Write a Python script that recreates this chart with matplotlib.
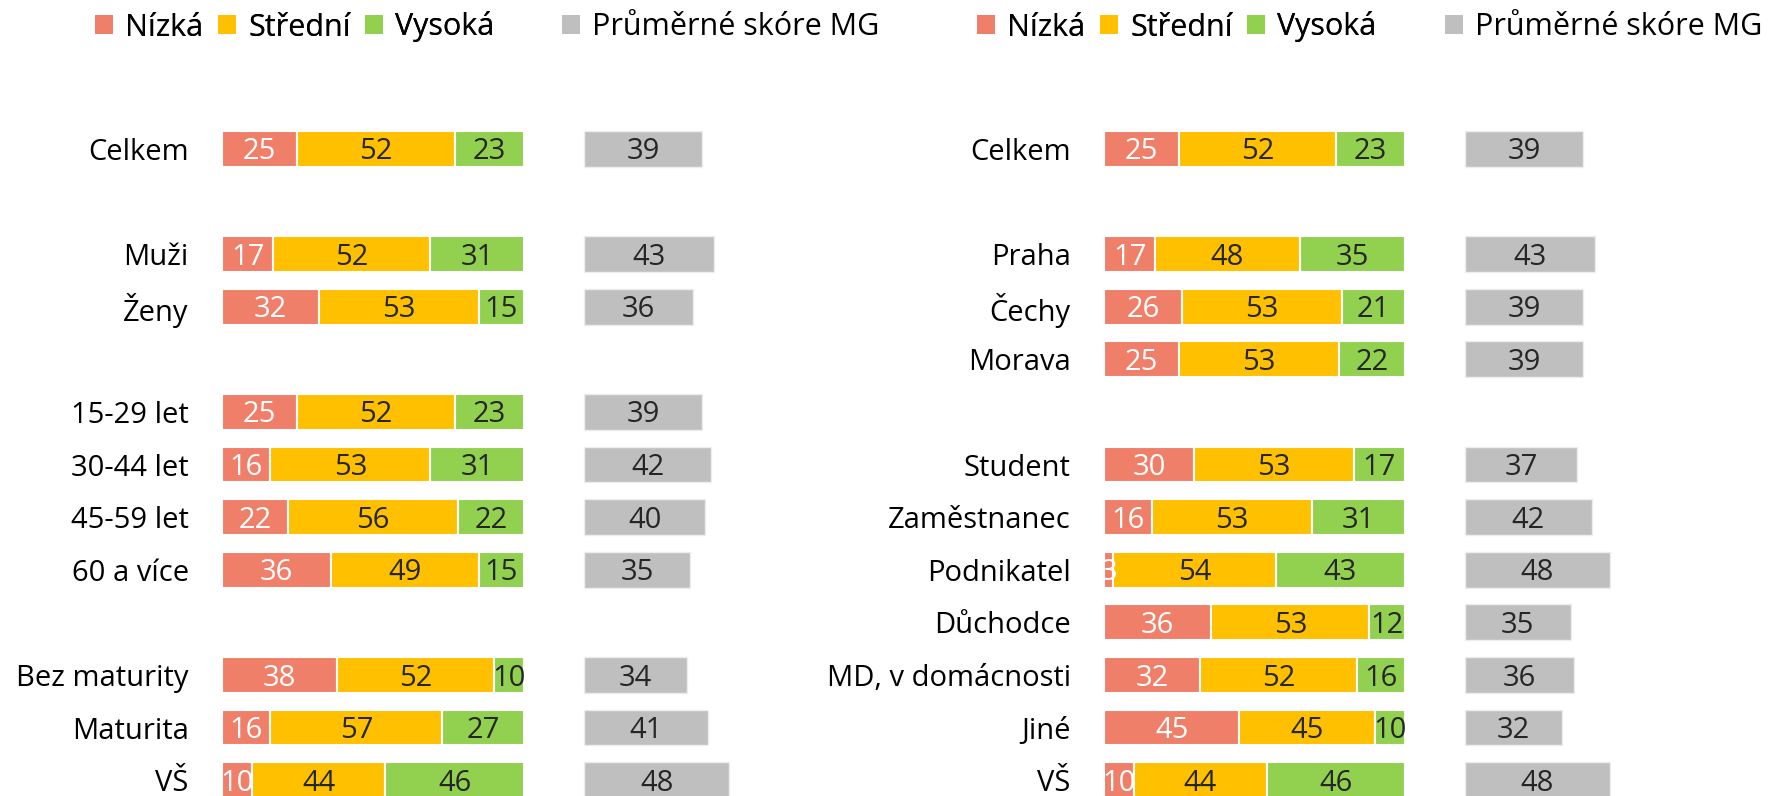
import numpy as np
import matplotlib
matplotlib.use('Agg')
import matplotlib.pyplot as plt
from matplotlib.patches import Patch

plt.rcParams['font.family'] = ['Open Sans', 'DejaVu Sans']

# left panel
left_groups = [['Celkem'], ['Muži', 'Ženy'],
               ['15-29 let', '30-44 let', '45-59 let', '60 a více'],
               ['Bez maturity', 'Maturita', 'VŠ']]
left_low = [25, 17, 32, 25, 16, 22, 36, 38, 16, 10]
left_mid = [52, 52, 53, 52, 53, 56, 49, 52, 57, 44]
left_high = [23, 31, 15, 23, 31, 22, 15, 10, 27, 46]
left_score = [39, 43, 36, 39, 42, 40, 35, 34, 41, 48]

# right panel
right_groups = [['Celkem'], ['Praha', 'Čechy', 'Morava'],
                ['Student', 'Zaměstnanec', 'Podnikatel', 'Důchodce',
                 'MD, v domácnosti', 'Jiné', 'VŠ']]
right_low = [25, 17, 26, 25, 30, 16, 3, 36, 32, 45, 10]
right_mid = [52, 48, 53, 53, 53, 53, 54, 53, 52, 45, 44]
right_high = [23, 35, 21, 22, 17, 31, 43, 12, 16, 10, 46]
right_score = [39, 43, 39, 39, 37, 42, 48, 35, 36, 32, 48]

legend_labels = ['Nízká', 'Střední', 'Vysoká']
score_label = 'Průměrné skóre MG'

RED = '#F07F6A'
YELLOW = '#FFC000'
GREEN = '#92D050'
GRAY = '#BFBFBF'
DARK = '#262626'
FS = 21
LEG_FS = 22
W, H = 1783, 796
GRAY_START = 120
# baseline shift so the digits sit centred on the bar (in row units)
TXT_DY = 0.2


def row_positions(groups):
    pos = []
    y = 0
    for g in groups:
        for _ in g:
            pos.append(y)
            y += 1
        y += 1
    return pos


def draw_panel(ax, groups, low, mid, high, score):
    labels = [c for g in groups for c in g]
    pos = np.array(row_positions(groups))
    low = np.array(low, float)
    mid = np.array(mid, float)
    high = np.array(high, float)
    tot = low + mid + high
    parts = [(low, RED, 'white'), (mid, YELLOW, DARK), (high, GREEN, DARK)]
    left = np.zeros(len(labels))
    for vals, col, tcol in parts:
        w = vals / tot * 100
        ax.barh(pos, w, left=left, height=0.68, color=col,
                edgecolor='white', linewidth=1.5)
        for y, l, ww, v in zip(pos, left, w, vals):
            ax.text(l + ww / 2, y + TXT_DY, '%d' % v, ha='center', va='baseline',
                    fontsize=FS, color=tcol)
        left = left + w
    ax.barh(pos, score, left=GRAY_START, height=0.68, color=GRAY,
            edgecolor='#EDEDED', linewidth=1)
    for y, v in zip(pos, score):
        ax.text(GRAY_START + v / 2, y + TXT_DY, '%d' % v, ha='center', va='baseline',
                fontsize=FS, color=DARK)
    ax.set_yticks(pos, labels)
    ax.tick_params(axis='y', length=0, pad=24, labelsize=FS)
    ax.set_xticks([])
    ax.set_xlim(0, 170)
    ax.set_ylim(12.3, -2.83)
    for s in ax.spines.values():
        s.set_visible(False)
    ax.patch.set_alpha(0)


fig = plt.figure(figsize=(W / 100, H / 100), dpi=100)
ax1 = fig.add_axes([222 / W, 0, 170 * 3.02 / W, 1])
ax2 = fig.add_axes([1104 / W, 0, 170 * 3.01 / W, 1])
draw_panel(ax1, left_groups, left_low, left_mid, left_high, left_score)
draw_panel(ax2, right_groups, right_low, right_mid, right_high, right_score)

handles = [Patch(facecolor=c) for c in [RED, YELLOW, GREEN]]
leg_kw = dict(loc='center left', bbox_transform=fig.transFigure, frameon=False,
              borderpad=0, borderaxespad=0, handlelength=0.59, handleheight=0.59,
              handletextpad=0.39, columnspacing=0.49, fontsize=LEG_FS)
for x1, x2 in [(95, 562), (977, 1445)]:
    l1 = fig.legend(handles, legend_labels, ncol=3,
                    bbox_to_anchor=(x1 / W, 1 - 27 / H), **leg_kw)
    fig.add_artist(l1)
    l2 = fig.legend([Patch(facecolor=GRAY)], [score_label],
                    bbox_to_anchor=(x2 / W, 1 - 27 / H), **leg_kw)

fig.savefig('out.png', dpi=100)
